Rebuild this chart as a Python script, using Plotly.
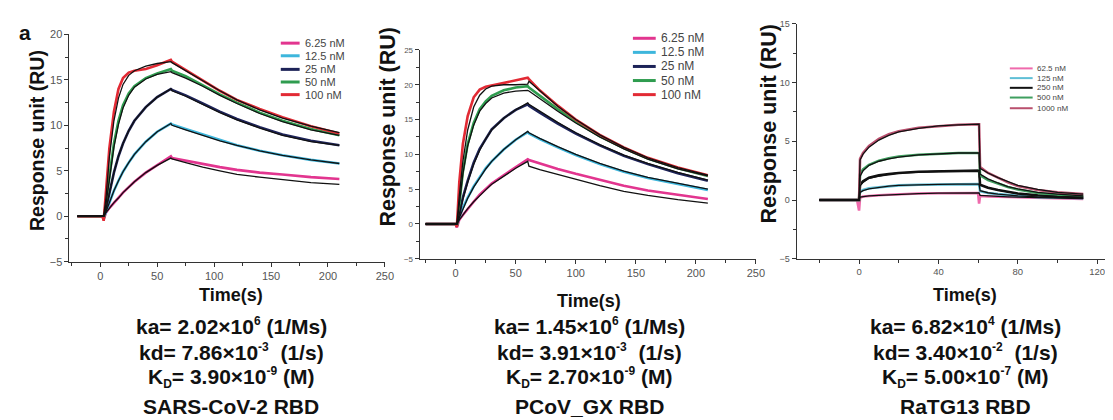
import plotly.graph_objects as go

# ---------------- Data ----------------
# Panel 1: SARS-CoV-2 RBD
t_sars = [-20, 0, 2, 3, 5, 8, 12, 16, 20, 25, 30, 40, 50, 62, 63, 75, 90, 105, 120, 140, 160, 185, 210]
sars_labels = ["6.25 nM", "12.5 nM", "25 nM", "50 nM", "100 nM"]
sars_6_25 = [0, 0, 0, -0.4, 0.4, 0.9, 1.5, 2.0, 2.6, 3.2, 3.8, 4.8, 5.6, 6.6, 6.4, 6.1, 5.7, 5.4, 5.1, 4.8, 4.6, 4.3, 4.1]
sars_12_5 = [0, 0, 0, -0.2, 0.5, 1.5, 2.8, 3.9, 4.9, 5.9, 6.8, 8.2, 9.3, 10.2, 10.1, 9.6, 9.0, 8.4, 7.8, 7.2, 6.7, 6.2, 5.8]
sars_25 = [0, 0, 0, -0.2, 0.8, 2.5, 4.8, 6.6, 8.0, 9.4, 10.5, 12.0, 13.1, 14.0, 13.9, 13.3, 12.4, 11.5, 10.7, 9.8, 9.0, 8.3, 7.8]
sars_50 = [0, 0, 0, -0.3, 1.5, 4.5, 8.0, 10.5, 12.2, 13.5, 14.3, 15.2, 15.7, 16.2, 16.0, 15.4, 14.4, 13.4, 12.5, 11.4, 10.5, 9.6, 8.9]
sars_100 = [0, 0, 0, -0.5, 2.5, 7.5, 11.5, 14.0, 15.2, 15.8, 16.0, 16.2, 16.6, 17.2, 17.0, 16.1, 14.9, 13.8, 12.8, 11.8, 10.9, 9.9, 9.1]
sars_fit_6_25 = [0, 0, 0, 0, 0.4, 0.9, 1.5, 2.0, 2.6, 3.2, 3.8, 4.8, 5.6, 6.4, 6.3, 5.9, 5.4, 5.0, 4.6, 4.3, 4.0, 3.7, 3.5]
sars_fit_12_5 = [0, 0, 0, 0, 0.5, 1.5, 2.8, 3.9, 4.9, 5.9, 6.8, 8.2, 9.3, 10.2, 10.0, 9.5, 8.9, 8.3, 7.8, 7.2, 6.7, 6.2, 5.8]
sars_fit_25 = [0, 0, 0, 0, 0.8, 2.5, 4.8, 6.6, 8.0, 9.4, 10.5, 12.0, 13.1, 14.0, 13.8, 13.2, 12.3, 11.4, 10.6, 9.7, 8.9, 8.2, 7.8]
sars_fit_50 = [0, 0, 0, 0, 1.3, 4.2, 7.6, 10.1, 11.9, 13.3, 14.2, 15.1, 15.6, 15.9, 15.8, 15.2, 14.3, 13.3, 12.4, 11.3, 10.4, 9.5, 8.9]
sars_fit_100 = [0, 0, 0, 0, 2.0, 6.5, 10.5, 13.0, 14.5, 15.5, 16.0, 16.5, 16.8, 17.0, 16.9, 16.0, 14.9, 13.8, 12.8, 11.7, 10.8, 9.9, 9.2]

# Panel 2: PCoV_GX RBD
t_gx = [-25, 0, 1, 3, 6, 10, 15, 20, 25, 30, 40, 50, 60, 61, 70, 85, 100, 120, 140, 160, 185, 210]
gx_labels = ["6.25 nM", "12.5 nM", "25 nM", "50 nM", "100 nM"]
gx_6_25 = [0, 0, -0.5, 0.6, 1.3, 2.2, 3.2, 4.2, 5.0, 5.8, 7.0, 8.2, 9.3, 9.2, 8.7, 7.9, 7.2, 6.3, 5.5, 4.8, 4.2, 3.6]
gx_12_5 = [0, 0, -0.2, 1.0, 2.3, 3.8, 5.4, 6.8, 8.0, 9.0, 10.7, 12.1, 13.2, 13.0, 12.2, 11.0, 9.9, 8.6, 7.5, 6.6, 5.7, 4.9]
gx_25 = [0, 0, -0.2, 1.5, 3.8, 6.2, 8.8, 10.8, 12.3, 13.6, 15.2, 16.4, 17.2, 17.0, 16.0, 14.4, 13.0, 11.3, 9.8, 8.6, 7.3, 6.2]
gx_50 = [0, 0, -0.3, 3.0, 7.5, 11.5, 14.5, 16.5, 17.6, 18.4, 19.2, 19.6, 19.8, 19.6, 18.4, 16.5, 14.7, 12.6, 10.9, 9.4, 8.0, 6.9]
gx_100 = [0, 0, -0.4, 6.0, 11.5, 15.5, 18.2, 19.3, 19.7, 19.9, 20.2, 20.6, 21.0, 20.8, 19.2, 17.0, 15.0, 12.8, 11.0, 9.5, 8.1, 7.0]
gx_fit_6_25 = [0, 0, 0, 0.6, 1.3, 2.2, 3.2, 4.1, 4.9, 5.7, 6.9, 8.0, 9.0, 8.3, 7.8, 7.1, 6.4, 5.5, 4.7, 4.1, 3.5, 3.0]
gx_fit_12_5 = [0, 0, 0, 0.9, 2.2, 3.7, 5.3, 6.7, 7.9, 9.0, 10.7, 12.1, 13.3, 13.1, 12.3, 11.1, 10.0, 8.7, 7.6, 6.7, 5.8, 5.0]
gx_fit_25 = [0, 0, 0, 1.4, 3.6, 6.0, 8.6, 10.6, 12.2, 13.5, 15.2, 16.4, 17.4, 17.2, 16.2, 14.6, 13.1, 11.4, 9.9, 8.7, 7.4, 6.3]
gx_fit_50 = [0, 0, 0, 2.8, 7.2, 11.2, 14.2, 16.2, 17.3, 18.1, 18.8, 19.1, 19.2, 19.1, 18.0, 16.2, 14.5, 12.5, 10.8, 9.3, 7.9, 6.9]
gx_fit_100 = [0, 0, 0, 4.0, 9.0, 13.5, 16.8, 18.5, 19.4, 19.8, 20.0, 20.0, 20.1, 20.5, 19.1, 16.9, 15.0, 12.8, 11.0, 9.5, 8.1, 7.0]

# Panel 3: RaTG13 RBD
t_ra = [-20, -1, 0, 0.5, 2, 5, 10, 15, 20, 30, 40, 50, 60, 60.5, 61, 65, 70, 75, 80, 90, 100, 113]
ra_labels = ["62.5 nM", "125 nM", "250 nM", "500 nM", "1000 nM"]
ra_62_5 = [0, 0, -0.9, 0.2, 0.3, 0.35, 0.4, 0.45, 0.5, 0.55, 0.58, 0.6, 0.6, -0.3, 0.35, 0.3, 0.28, 0.25, 0.22, 0.18, 0.15, 0.1]
ra_125 = [0, 0, 0, 0.7, 0.85, 1.0, 1.1, 1.2, 1.25, 1.3, 1.33, 1.35, 1.35, 1.35, 0.75, 0.6, 0.5, 0.4, 0.35, 0.25, 0.2, 0.15]
ra_250 = [0, 0, 0, 1.3, 1.6, 1.9, 2.1, 2.2, 2.3, 2.4, 2.45, 2.5, 2.5, 2.5, 1.3, 1.05, 0.85, 0.7, 0.55, 0.4, 0.3, 0.25]
ra_500 = [0, 0, 0, 2.2, 2.6, 3.0, 3.35, 3.55, 3.7, 3.85, 3.95, 4.0, 4.0, 4.0, 2.1, 1.7, 1.4, 1.1, 0.9, 0.6, 0.45, 0.35]
ra_1000 = [0, 0, 0, 3.5, 4.0, 4.6, 5.2, 5.6, 5.85, 6.15, 6.3, 6.4, 6.45, 6.45, 2.8, 2.3, 1.9, 1.5, 1.2, 0.85, 0.65, 0.5]
ra_fit_62_5 = [0, 0, 0, 0.25, 0.3, 0.35, 0.4, 0.45, 0.5, 0.55, 0.58, 0.6, 0.6, 0.6, 0.4, 0.35, 0.3, 0.27, 0.24, 0.2, 0.16, 0.12]
ra_fit_125 = [0, 0, 0, 0.65, 0.8, 0.95, 1.08, 1.18, 1.24, 1.3, 1.33, 1.35, 1.36, 1.36, 0.8, 0.62, 0.5, 0.42, 0.35, 0.26, 0.2, 0.15]
ra_fit_250 = [0, 0, 0, 1.2, 1.5, 1.85, 2.05, 2.2, 2.3, 2.4, 2.45, 2.5, 2.5, 2.5, 1.3, 1.05, 0.85, 0.7, 0.55, 0.4, 0.3, 0.25]
ra_fit_500 = [0, 0, 0, 2.0, 2.5, 2.95, 3.3, 3.5, 3.65, 3.85, 3.95, 4.0, 4.0, 4.0, 2.2, 1.8, 1.45, 1.15, 0.95, 0.65, 0.5, 0.35]
ra_fit_1000 = [0, 0, 0, 3.4, 3.9, 4.5, 5.1, 5.5, 5.8, 6.1, 6.3, 6.4, 6.45, 6.45, 2.7, 2.3, 1.9, 1.55, 1.25, 0.9, 0.65, 0.5]

# kinetic constants: (mantissa, exponent)
ka_vals = [("2.02", "6"), ("1.45", "6"), ("6.82", "4")]
kd_vals = [("7.86", "-3"), ("3.91", "-3"), ("3.40", "-2")]
KD_vals = [("3.90", "-9"), ("2.70", "-9"), ("5.00", "-7")]
names = ["SARS-CoV-2 RBD", "PCoV_GX RBD", "RaTG13 RBD"]

# ---------------- Styling ----------------
W, H = 1113, 420
FONT = "Liberation Sans, Arial, sans-serif"
colors_main = ["#e2358f", "#3db6dc", "#1d2358", "#2f9c4f", "#e22a34"]
colors_ra = ["#ef6aac", "#5fbfd6", "#111111", "#3f9f5f", "#b9506e"]


def px(x):
    return x / W


def py(y):
    return 1 - y / H


def sci(m, e):
    return '%s×10<sup><span style="font-size:12px">%s</span></sup>' % (m, e)


fig = go.Figure()

panels = [
    dict(ax="", t=t_sars, data=[sars_6_25, sars_12_5, sars_25, sars_50, sars_100],
         fits=[sars_fit_6_25, sars_fit_12_5, sars_fit_25, sars_fit_50, sars_fit_100],
         labels=sars_labels, colors=colors_main),
    dict(ax="2", t=t_gx, data=[gx_6_25, gx_12_5, gx_25, gx_50, gx_100],
         fits=[gx_fit_6_25, gx_fit_12_5, gx_fit_25, gx_fit_50, gx_fit_100],
         labels=gx_labels, colors=colors_main),
    dict(ax="3", t=t_ra, data=[ra_62_5, ra_125, ra_250, ra_500, ra_1000],
         fits=[ra_fit_62_5, ra_fit_125, ra_fit_250, ra_fit_500, ra_fit_1000],
         labels=ra_labels, colors=colors_ra),
]

for p in panels:
    for ys, lab, c in zip(p["data"], p["labels"], p["colors"]):
        fig.add_trace(go.Scatter(x=p["t"], y=ys, mode="lines", name=lab,
                                 line=dict(color=c, width=2.6), showlegend=False,
                                 xaxis="x" + p["ax"], yaxis="y" + p["ax"]))
    for ys in p["fits"]:
        fig.add_trace(go.Scatter(x=p["t"], y=ys, mode="lines",
                                 line=dict(color="#111111", width=1.3), showlegend=False,
                                 xaxis="x" + p["ax"], yaxis="y" + p["ax"]))

axis_common = dict(showline=True, linecolor="#333", linewidth=1, showgrid=False,
                   zeroline=False, ticks="outside", ticklen=4, tickcolor="#333",
                   tickwidth=1, fixedrange=True)

layout_axes = {
    "xaxis": dict(axis_common, domain=[px(62), px(380)], range=[-27, 250], anchor="y",
                  dtick=50, tick0=0, tickfont=dict(size=11, color="#555", family=FONT),
                  minor=dict(dtick=25, tick0=0, ticks="outside", ticklen=3, tickcolor="#333")),
    "yaxis": dict(axis_common, domain=[py(255), py(21)], range=[-5, 20], anchor="x",
                  dtick=5, tickfont=dict(size=11, color="#555", family=FONT),
                  minor=dict(dtick=2.5, ticks="outside", ticklen=3, tickcolor="#333")),
    "xaxis2": dict(axis_common, domain=[px(415), px(754)], range=[-30, 250], anchor="y2",
                   dtick=50, tick0=0, tickfont=dict(size=11, color="#555", family=FONT),
                   minor=dict(dtick=25, tick0=0, ticks="outside", ticklen=3, tickcolor="#333")),
    "yaxis2": dict(axis_common, domain=[py(252), py(37)], range=[-5, 25], anchor="x2",
                   dtick=5, tickfont=dict(size=8, color="#555", family=FONT),
                   minor=dict(dtick=2.5, ticks="outside", ticklen=3, tickcolor="#333")),
    "xaxis3": dict(axis_common, domain=[px(795), 1.0], range=[-31.5, 127.5], anchor="y3",
                   dtick=40, tick0=0, tickfont=dict(size=9.5, color="#555", family=FONT),
                   minor=dict(dtick=20, tick0=0, ticks="outside", ticklen=3, tickcolor="#333")),
    "yaxis3": dict(axis_common, domain=[py(252), py(10)], range=[-5, 15], anchor="x3",
                   dtick=5, tickfont=dict(size=9, color="#555", family=FONT),
                   minor=dict(dtick=2.5, ticks="outside", ticklen=3, tickcolor="#333")),
}

annotations = []
shapes = []

# y-axis titles
for (x, y, s) in [(30, 130, 19.5), (383, 116, 21.5), (767, 113, 21.5)]:
    annotations.append(dict(x=px(x), y=py(y), xref="paper", yref="paper", showarrow=False,
                            text="<b>Response unit (RU)</b>", textangle=-90,
                            font=dict(size=s, color="#111", family=FONT),
                            xanchor="center", yanchor="middle"))

# x-axis titles and kinetics text
centers = [225, 586, 965]
time_y = [289, 295, 289]
for i, cx in enumerate(centers):
    annotations.append(dict(x=px(cx), y=py(time_y[i]), xref="paper", yref="paper", showarrow=False,
                            text="<b>Time(s)</b>", font=dict(size=18, color="#111", family=FONT),
                            xanchor="center", yanchor="middle"))
    lines = [("<b>ka= %s (1/Ms)</b>" % sci(*ka_vals[i]), 321),
             ("<b>kd= %s  (1/s)</b>" % sci(*kd_vals[i]), 348),
             ('<b>K<sub><span style="font-size:12px">D</span></sub>= %s (M)</b>' % sci(*KD_vals[i]), 374),
             ("<b>%s</b>" % names[i], 404)]
    for txt, yy in lines:
        annotations.append(dict(x=px(cx), y=py(yy), xref="paper", yref="paper", showarrow=False,
                                text=txt, font=dict(size=21, color="#111", family=FONT),
                                xanchor="center", yanchor="middle"))

# panel letter
annotations.append(dict(x=px(9), y=py(19), xref="paper", yref="paper", showarrow=False,
                        text="<b>a</b>", font=dict(size=21, color="#111", family=FONT),
                        xanchor="left", yanchor="middle"))

# legends (swatch + label)
legend_specs = [
    dict(x0=275, x1=294, tx=297, ys=[30, 43, 57, 70, 83], size=11, labels=sars_labels, colors=colors_main, w=3),
    dict(x0=630, x1=653, tx=656, ys=[25, 39.5, 54, 68.5, 83], size=12, labels=gx_labels, colors=colors_main, w=3),
    dict(x0=1010, x1=1033, tx=1035, ys=[56, 66, 76, 86, 97], size=8, labels=ra_labels, colors=colors_ra, w=2),
]
for L in legend_specs:
    for yy, lab, c in zip(L["ys"], L["labels"], L["colors"]):
        shapes.append(dict(type="line", xref="paper", yref="paper", x0=px(L["x0"]), x1=px(L["x1"]),
                           y0=py(yy), y1=py(yy), line=dict(color=c, width=L["w"])))
        annotations.append(dict(x=px(L["tx"]), y=py(yy), xref="paper", yref="paper", showarrow=False,
                                text=lab, font=dict(size=L["size"], color="#444", family=FONT),
                                xanchor="left", yanchor="middle"))

fig.update_layout(
    width=W, height=H, margin=dict(l=0, r=0, t=0, b=0),
    paper_bgcolor="white", plot_bgcolor="white",
    font=dict(family=FONT, color="#333"),
    showlegend=False,
    annotations=annotations, shapes=shapes,
    **layout_axes,
)

fig.write_html("out.html")
